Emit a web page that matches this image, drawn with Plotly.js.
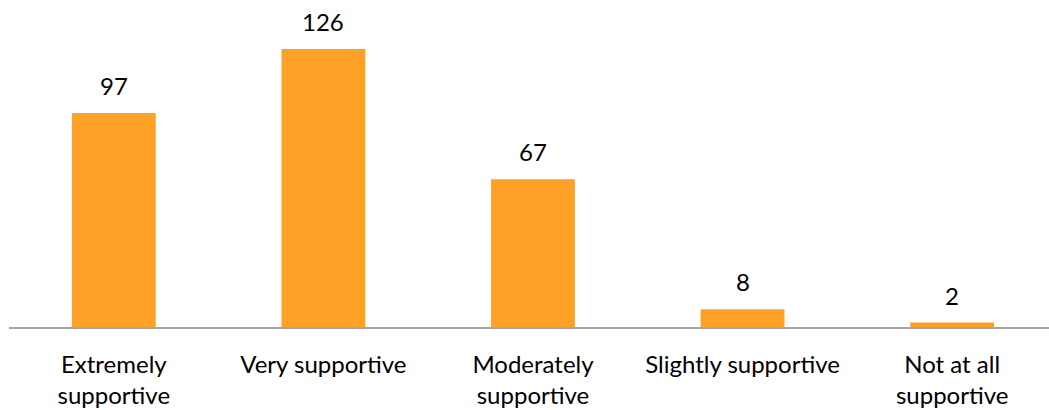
<!DOCTYPE html>
<html>
<head>
<meta charset="utf-8">
<script src="https://cdn.plot.ly/plotly-3.0.1.min.js"></script>
<style>html,body{margin:0;padding:0;background:#fff;}#chart{width:1049px;height:410px;}</style>
</head>
<body>
<div id="chart"></div>
<script>
const categories = ["Extremely<br>supportive", "Very supportive", "Moderately<br>supportive", "Slightly supportive", "Not at all<br>supportive"];
const values = [97, 126, 67, 8, 2];

const barColor = "#FFA126";
const fontFamily = "Lato, 'Open Sans', sans-serif";

const trace = {
  type: "bar",
  x: categories,
  y: values,
  marker: {color: barColor},
  hoverinfo: "none"
};

const annotations = categories.map((c, i) => ({
  x: c, y: values[i], xref: "x", yref: "y",
  text: String(values[i]), showarrow: false,
  yanchor: "bottom", yshift: 11,
  font: {family: fontFamily, size: 24, color: "#000"}
}));

const layout = {
  width: 1049, height: 410,
  margin: {l: 9, r: 0, t: 10, b: 83},
  paper_bgcolor: "#fff", plot_bgcolor: "#fff",
  showlegend: false,
  bargap: 0.6,
  font: {family: fontFamily, size: 24, color: "#000"},
  xaxis: {
    type: "category",
    range: [-0.5, 4.462],
    showline: true, linecolor: "#A6A6A6", linewidth: 2,
    ticks: "outside", ticklen: 15, tickcolor: "rgba(0,0,0,0)",
    showgrid: false, zeroline: false,
    tickfont: {family: fontFamily, size: 24, color: "#000"}
  },
  yaxis: {
    range: [0, 143.7],
    visible: false, showgrid: false, zeroline: false
  },
  annotations: annotations
};

Plotly.newPlot("chart", [trace], layout, {staticPlot: true, displayModeBar: false});
</script>
</body>
</html>
